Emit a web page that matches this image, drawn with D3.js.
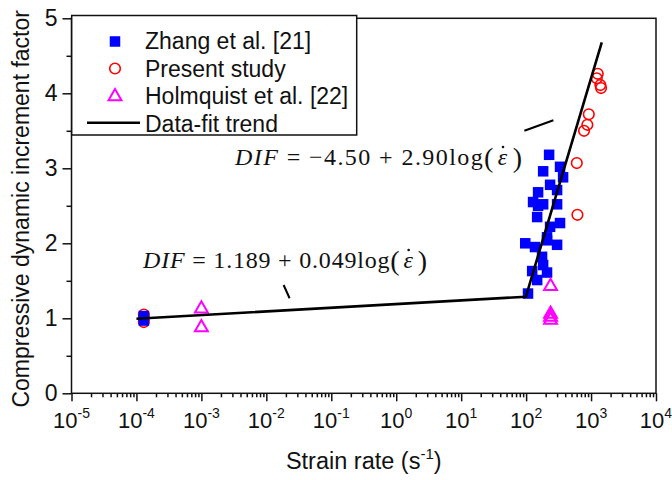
<!DOCTYPE html>
<html>
<head>
<meta charset="utf-8">
<script src="https://cdn.jsdelivr.net/npm/d3@7"></script>
<style>
  body { margin: 0; background: #fff; }
  svg { display: block; }
  text { white-space: pre; }
</style>
</head>
<body>
<svg id="chart" width="672" height="480"></svg>
<script>
// ---------------- data ----------------
const zhangRate = [1.3e-4, 1.3e-4, 226, 183, 333, 371, 153, 234, 128, 300, 183, 300, 153, 333, 234, 148, 210, 97, 137, 300, 210, 176, 124, 183, 210, 148, 107];
const zhangDIF  = [1.03, 0.97, 3.18, 2.96, 3.02, 2.88, 2.68, 2.78, 2.55, 2.71, 2.52, 2.52, 2.50, 2.27, 2.22, 2.35, 2.08, 2.00, 1.95, 1.98, 2.04, 1.82, 1.63, 1.71, 1.61, 1.51, 1.33];

const presentRate = [1.3e-4, 1.3e-4, 1.3e-4, 1268, 1225, 1390, 1425, 923, 877, 780, 603, 617];
const presentDIF  = [1.05, 1.00, 0.95, 4.26, 4.20, 4.11, 4.07, 3.72, 3.58, 3.50, 3.07, 2.38];

const holmRate = [1e-3, 1e-3, 238, 238, 238, 238];
const holmDIF  = [1.14, 0.89, 1.44, 1.07, 1.03, 0.99];

const trendRate = [1e-4, 99, 1462];
const trendDIF  = [0.993, 1.287, 4.68];

// leader lines for the two equations: [rate1, dif1, rate2, dif2]
const leaderUpper = [94, 3.50, 263, 3.64];
const leaderLower = [0.01845, 1.444, 0.0228, 1.267];

const xMajor = [1e-5, 1e-4, 1e-3, 1e-2, 1e-1, 1e0, 1e1, 1e2, 1e3, 1e4];
const xExp   = ["-5", "-4", "-3", "-2", "-1", "0", "1", "2", "3", "4"];
const yMajor = [0, 1, 2, 3, 4, 5];
const yMinor = [0.5, 1.5, 2.5, 3.5, 4.5];

const legendLabels = ["Zhang et al. [21]", "Present study", "Holmquist et al. [22]", "Data-fit trend"];

const eqUpperBody = " = \u22124.50 + 2.90log";
const eqLowerBody = " = 1.189 + 0.049log";

// ---------------- chart ----------------
const svg = d3.select("#chart");
const L = 71.5, R = 656, T = 18.3, B = 393.3;
const x = d3.scaleLog().domain([1e-5, 1e4]).range([L, R]);
const y = d3.scaleLinear().domain([0, 5]).range([B, T]);

const sans = "'Liberation Sans', Arial, Helvetica, sans-serif";
const serif = "'Liberation Serif', 'Times New Roman', serif";
const ink = "#111";

// minor x ticks
const xMinor = [];
for (let e = -5; e < 4; e++) for (let m = 2; m <= 9; m++) xMinor.push(m * Math.pow(10, e));

const gx = svg.append("g").attr("transform", `translate(0,${B})`);
gx.call(d3.axisBottom(x).tickValues(xMajor).tickSize(8).tickFormat(""));
const gxm = svg.append("g").attr("transform", `translate(0,${B})`);
gxm.call(d3.axisBottom(x).tickValues(xMinor).tickSize(4).tickFormat(""));
[gx, gxm].forEach(g => { g.select(".domain").remove(); g.selectAll("line").attr("stroke", ink).attr("stroke-width", 1.5); });

// x tick labels
svg.append("g").selectAll("text").data(xMajor).join("text")
  .attr("x", d => x(d)).attr("y", 428)
  .attr("text-anchor", "middle")
  .attr("font-family", sans).attr("font-size", 22).attr("fill", ink)
  .each(function(d, i) {
    const t = d3.select(this);
    t.append("tspan").text("10");
    t.append("tspan").attr("dy", -10).attr("font-size", 14).text(xExp[i]);
  });

const gy = svg.append("g").attr("transform", `translate(${L},0)`);
gy.call(d3.axisLeft(y).tickValues(yMajor).tickSize(9).tickPadding(5).tickFormat(d3.format("d")));
const gym = svg.append("g").attr("transform", `translate(${L},0)`);
gym.call(d3.axisLeft(y).tickValues(yMinor).tickSize(5).tickFormat(""));
[gy, gym].forEach(g => { g.select(".domain").remove(); g.selectAll("line").attr("stroke", ink).attr("stroke-width", 1.5); });
gy.selectAll("text").attr("font-family", sans).attr("font-size", 23).attr("fill", ink);

// frame
svg.append("rect").attr("x", L).attr("y", T).attr("width", R - L).attr("height", B - T)
  .attr("fill", "none").attr("stroke", ink).attr("stroke-width", 1.5);

// axis titles
const xt = svg.append("text").attr("x", (L + R) / 2).attr("y", 469).attr("text-anchor", "middle")
  .attr("font-family", sans).attr("font-size", 23.5).attr("fill", ink);
xt.append("tspan").text("Strain rate (s");
xt.append("tspan").attr("dy", -10).attr("font-size", 15).text("-1");
xt.append("tspan").attr("dy", 10).text(")");

svg.append("text").attr("transform", `translate(29,${(T + B) / 2 + 3}) rotate(-90)`)
  .attr("text-anchor", "middle").attr("font-family", sans).attr("font-size", 23).attr("fill", ink)
  .text("Compressive dynamic increment factor");

// markers
const sq = 10.5;
svg.append("g").selectAll("circle").data(presentRate).join("circle")
  .attr("cx", d => x(d)).attr("cy", (d, i) => y(presentDIF[i])).attr("r", 5.3)
  .attr("fill", "none").attr("stroke", "#ff0000").attr("stroke-width", 1.6);

svg.append("g").selectAll("rect").data(zhangRate).join("rect")
  .attr("x", d => x(d) - sq / 2).attr("y", (d, i) => y(zhangDIF[i]) - sq / 2)
  .attr("width", sq).attr("height", sq).attr("fill", "#0000ff");

const tri = d3.symbol().type(d3.symbolTriangle).size(72);
svg.append("g").selectAll("path").data(holmRate).join("path")
  .attr("transform", (d, i) => `translate(${x(d)},${y(holmDIF[i]) + 1})`)
  .attr("d", tri).attr("fill", "none").attr("stroke", "#ff00ff").attr("stroke-width", 2);

// trend line
const line = d3.line().x(d => x(d[0])).y(d => y(d[1]));
svg.append("path").datum(trendRate.map((r, i) => [r, trendDIF[i]]))
  .attr("d", line).attr("fill", "none").attr("stroke", "#000").attr("stroke-width", 2.6);

[leaderUpper, leaderLower].forEach(a => {
  svg.append("line").attr("x1", x(a[0])).attr("y1", y(a[1])).attr("x2", x(a[2])).attr("y2", y(a[3]))
    .attr("stroke", "#000").attr("stroke-width", 2);
});

// equations
function equation(px, py, body, len) {
  const t = svg.append("text").attr("x", px).attr("y", py)
    .attr("font-family", serif).attr("font-size", 24).attr("fill", ink)
    .attr("textLength", len).attr("lengthAdjust", "spacing");
  t.append("tspan").attr("font-style", "italic").text("DIF");
  t.append("tspan").text(body);
  t.append("tspan").attr("font-size", 28).attr("dy", 2).text("(");
  t.append("tspan").attr("dx", 3).attr("dy", -2).attr("font-style", "italic").text("\u03B5");
  t.append("tspan").attr("dx", 4).attr("dy", 2).attr("font-size", 28).text(")");
  // dot over epsilon (time derivative)
  const idx = 3 + body.length + 1;
  let cx = px + len - 17;
  try { const e = t.node().getExtentOfChar(idx); cx = e.x + e.width / 2 + 0.5; } catch (err) {}
  svg.append("circle").attr("cx", cx).attr("cy", py - 18).attr("r", 1.3).attr("fill", ink);
}
equation(235, 165, eqUpperBody, 287);
equation(143, 268, eqLowerBody, 284);

// legend
const lg = svg.append("g");
lg.append("rect").attr("x", 71.7).attr("y", 15.5).attr("width", 285).attr("height", 119.5)
  .attr("fill", "#fff").attr("stroke", ink).attr("stroke-width", 1.5);
const ly = [41.5, 68.5, 95.5, 122.7];
const lb = [49, 76.5, 104, 131.5];
lg.append("rect").attr("x", 115 - sq / 2).attr("y", ly[0] - sq / 2).attr("width", sq).attr("height", sq).attr("fill", "#0000ff");
lg.append("circle").attr("cx", 115).attr("cy", ly[1]).attr("r", 5.3).attr("fill", "none").attr("stroke", "#ff0000").attr("stroke-width", 1.6);
lg.append("path").attr("transform", `translate(115,${ly[2] + 1})`).attr("d", tri).attr("fill", "none").attr("stroke", "#ff00ff").attr("stroke-width", 2);
lg.append("line").attr("x1", 87).attr("x2", 140).attr("y1", ly[3]).attr("y2", ly[3]).attr("stroke", "#000").attr("stroke-width", 2.6);
lg.selectAll("text.lbl").data(legendLabels).join("text").attr("class", "lbl")
  .attr("x", 145).attr("y", (d, i) => lb[i])
  .attr("font-family", sans).attr("font-size", 23).attr("fill", ink).text(d => d);
</script>
</body>
</html>
